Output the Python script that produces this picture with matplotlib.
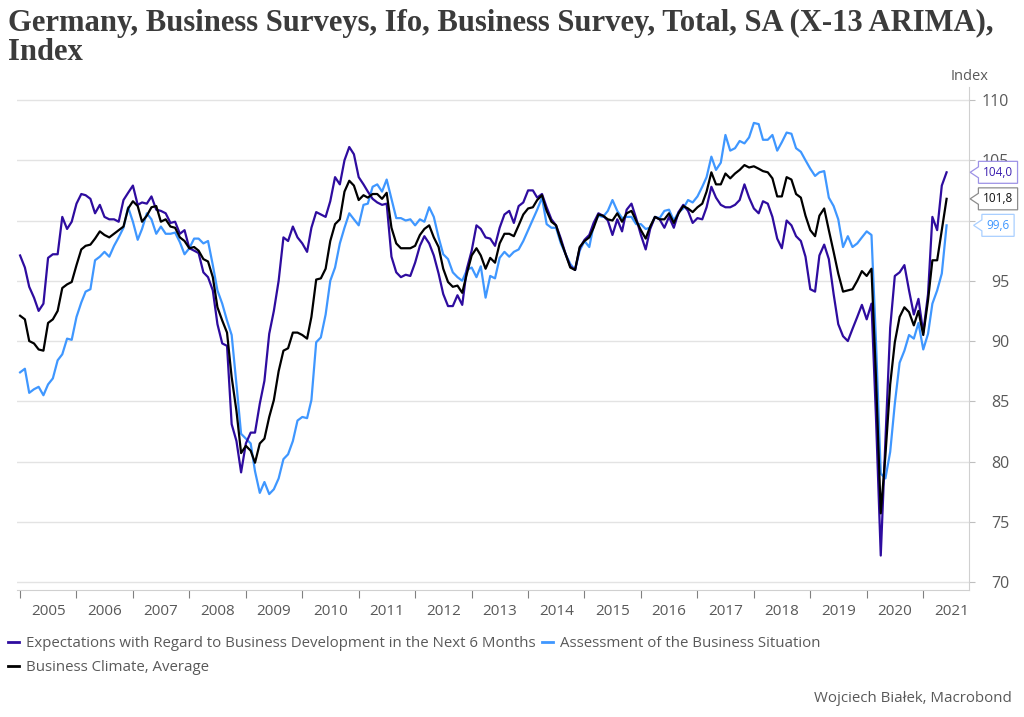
import matplotlib
matplotlib.use("Agg")
import matplotlib.pyplot as plt
import matplotlib.dates as mdates
from matplotlib.path import Path
from matplotlib.lines import Line2D
import matplotlib.transforms as mtransforms
import numpy as np
import pandas as pd

# ---------------- data (monthly, Jan 2005 - Jun 2021) ----------------
start_month = "2005-01-01"

expectations = [
    97.1, 96.1, 94.5, 93.6, 92.5, 93.1, 96.9, 97.2, 97.2, 100.3, 99.3, 99.9,      # 2005
    101.4, 102.2, 102.1, 101.8, 100.6, 101.3, 100.3, 100.1, 100.1, 99.9, 101.7, 102.3,  # 2006
    102.9, 101.3, 101.5, 101.4, 102.0, 100.9, 100.8, 100.6, 99.8, 99.9, 98.9, 99.2,   # 2007
    97.7, 97.5, 97.3, 95.7, 95.3, 94.2, 91.4, 89.8, 89.6, 83.1, 81.7, 79.1,          # 2008
    81.5, 82.4, 82.4, 84.8, 86.7, 90.6, 92.5, 95.0, 98.6, 98.3, 99.5, 98.6,          # 2009
    98.1, 97.4, 99.4, 100.7, 100.5, 100.3, 101.6, 103.6, 103.0, 105.0, 106.1, 105.5,  # 2010
    103.6, 103.0, 102.4, 101.8, 101.5, 101.3, 101.4, 97.0, 95.7, 95.3, 95.5, 95.4,   # 2011
    96.5, 97.9, 98.7, 98.1, 97.1, 95.6, 93.9, 92.9, 92.9, 93.8, 93.0, 96.0,          # 2012
    97.5, 99.6, 99.3, 98.6, 98.5, 97.9, 99.4, 100.5, 100.8, 99.8, 101.2, 101.5,      # 2013
    102.5, 102.5, 101.9, 102.2, 101.1, 100.1, 99.6, 98.5, 97.2, 96.2, 95.9, 97.7,    # 2014
    98.4, 98.8, 99.8, 100.6, 100.4, 100.0, 98.8, 100.1, 99.1, 100.9, 101.4, 100.2,   # 2015
    98.8, 97.6, 99.3, 100.3, 100.1, 99.4, 100.3, 99.4, 100.7, 101.3, 100.8, 99.8,    # 2016
    100.2, 100.1, 101.1, 102.8, 101.9, 101.3, 101.1, 101.1, 101.3, 101.7, 103.0, 101.9,  # 2017
    101.0, 100.6, 101.6, 101.4, 100.3, 98.5, 97.7, 100.0, 99.6, 98.7, 98.3, 97.0,    # 2018
    94.3, 94.1, 97.1, 98.0, 96.8, 93.9, 91.4, 90.4, 90.0, 91.0, 92.0, 93.0,          # 2019
    91.8, 93.1, 83.7, 72.2, 81.7, 91.1, 95.4, 95.7, 96.3, 94.2, 92.2, 93.5,          # 2020
    90.7, 93.9, 100.3, 99.2, 102.9, 104.0,                                            # 2021
]

assessment = [
    87.4, 87.7, 85.7, 86.0, 86.2, 85.5, 86.4, 86.9, 88.4, 88.9, 90.2, 90.1,          # 2005
    92.0, 93.2, 94.1, 94.3, 96.7, 97.0, 97.4, 97.0, 97.9, 98.6, 99.4, 101.1,         # 2006
    99.9, 98.4, 99.3, 100.6, 100.1, 98.9, 99.5, 98.9, 98.9, 99.0, 98.2, 97.2,        # 2007
    97.7, 98.5, 98.5, 98.1, 98.3, 96.3, 94.2, 93.1, 91.7, 90.5, 86.4, 82.3,          # 2008
    81.9, 81.5, 79.2, 77.4, 78.3, 77.3, 77.7, 78.6, 80.2, 80.6, 81.7, 83.4,          # 2009
    83.7, 83.6, 85.1, 89.9, 90.3, 92.2, 95.0, 96.1, 98.1, 99.4, 100.6, 100.1,        # 2010
    99.6, 101.3, 101.4, 102.8, 103.0, 102.4, 103.4, 101.8, 100.2, 100.2, 100.0, 100.1,  # 2011
    99.6, 100.1, 99.9, 101.1, 100.3, 98.6, 97.2, 96.8, 95.7, 95.3, 95.0, 95.9,       # 2012
    96.1, 95.3, 96.2, 93.6, 95.4, 95.2, 96.9, 97.4, 97.0, 97.4, 97.6, 98.3,          # 2013
    99.2, 100.1, 100.9, 101.9, 99.7, 99.4, 99.4, 98.1, 97.2, 96.4, 95.9, 97.5,       # 2014
    98.3, 97.8, 99.6, 100.4, 100.3, 100.8, 101.7, 100.8, 100.2, 100.3, 100.3, 99.7,  # 2015
    99.7, 99.3, 99.4, 100.3, 100.2, 100.8, 100.9, 100.0, 100.7, 101.0, 101.7, 101.5,  # 2016
    102.0, 102.8, 103.6, 105.3, 104.2, 104.8, 107.1, 105.8, 106.0, 106.6, 106.4, 106.9,  # 2017
    108.1, 108.0, 106.7, 106.7, 107.1, 105.8, 106.5, 107.3, 107.2, 106.0, 105.7, 105.0,  # 2018
    104.3, 103.7, 104.0, 104.1, 101.9, 101.2, 100.1, 97.8, 98.7, 97.8, 98.1, 98.6,   # 2019
    99.1, 98.8, 90.0, 79.0, 78.6, 80.8, 84.8, 88.2, 89.2, 90.5, 90.2, 91.5,          # 2020
    89.3, 90.6, 93.1, 94.2, 95.6, 99.6,                                               # 2021
]

climate = [
    92.1, 91.8, 90.0, 89.8, 89.3, 89.2, 91.5, 91.8, 92.5, 94.4, 94.7, 94.9,          # 2005
    96.3, 97.6, 97.9, 98.0, 98.5, 99.1, 98.8, 98.6, 98.9, 99.2, 99.5, 101.0,         # 2006
    101.6, 101.2, 99.9, 100.4, 101.1, 101.2, 99.9, 100.1, 99.5, 99.4, 98.6, 98.3,    # 2007
    97.7, 97.8, 97.5, 96.8, 96.6, 95.3, 92.8, 91.7, 90.7, 87.0, 84.2, 80.7,          # 2008
    81.3, 80.9, 79.9, 81.5, 81.9, 83.7, 85.1, 87.5, 89.2, 89.4, 90.7, 90.7,          # 2009
    90.5, 90.2, 92.0, 95.1, 95.2, 96.0, 98.3, 99.7, 100.1, 102.4, 103.3, 102.9,      # 2010
    101.7, 102.1, 101.9, 102.2, 102.2, 101.8, 102.3, 99.4, 98.1, 97.7, 97.7, 97.7,   # 2011
    97.9, 98.8, 99.3, 99.6, 98.6, 97.8, 96.0, 94.9, 94.5, 94.6, 94.0, 95.6,          # 2012
    97.1, 97.7, 97.1, 96.0, 96.9, 96.5, 98.1, 98.9, 98.9, 98.7, 99.6, 100.5,         # 2013
    101.0, 101.1, 101.7, 102.1, 100.8, 99.9, 99.6, 98.3, 97.2, 96.1, 95.9, 97.8,     # 2014
    98.3, 98.6, 99.4, 100.5, 100.4, 100.1, 100.0, 100.6, 99.9, 100.6, 100.8, 100.0,  # 2015
    99.2, 98.5, 99.5, 100.3, 100.1, 100.1, 100.6, 99.8, 100.6, 101.2, 101.0, 100.7,  # 2016
    101.1, 101.4, 102.4, 104.0, 103.0, 103.0, 103.9, 103.5, 103.9, 104.2, 104.6, 104.4,  # 2017
    104.5, 104.3, 104.1, 104.0, 103.5, 102.0, 102.0, 103.6, 103.4, 102.2, 101.9, 100.4,  # 2018
    99.2, 98.7, 100.4, 101.0, 99.2, 97.4, 95.6, 94.1, 94.2, 94.3, 95.0, 95.8,        # 2019
    95.4, 96.0, 87.0, 75.7, 80.5, 86.4, 89.9, 92.0, 92.8, 92.4, 91.3, 92.5,          # 2020
    90.5, 93.4, 96.7, 96.7, 99.2, 101.8,                                              # 2021
]

labels = [
    "Expectations with Regard to Business Development in the Next 6 Months",
    "Assessment of the Business Situation",
    "Business Climate, Average",
]
year_labels = [str(y) for y in range(2005, 2022)]
y_ticks = [70, 75, 80, 85, 90, 95, 100, 105, 110]

# ---------------- style ----------------
C_EXP = "#2e0c9f"
C_ASS = "#3f97ff"
C_CLI = "#000000"
GRAY_TXT = "#595959"
SANS = ["Open Sans", "DejaVu Sans"]

plt.rcParams["font.family"] = SANS

dates = pd.date_range(start_month, periods=len(climate), freq="MS")

fig = plt.figure(figsize=(10.24, 7.17), dpi=100)
W, H = 1024, 717
ax_l, ax_r, ax_b, ax_t = 17, 969, 590, 87
ax = fig.add_axes([ax_l / W, 1 - ax_b / H, (ax_r - ax_l) / W, (ax_b - ax_t) / H])

lw = 1.6
l_exp, = ax.plot(dates, expectations, color=C_EXP, lw=lw, zorder=3)
l_ass, = ax.plot(dates, assessment, color=C_ASS, lw=lw, zorder=2)
l_cli, = ax.plot(dates, climate, color=C_CLI, lw=lw, zorder=4)

# axes limits
ax.set_ylim(69.34, 111.08)
x0 = pd.Timestamp("2004-12-12")
x1 = pd.Timestamp("2021-10-24")
ax.set_xlim(x0, x1)

# y axis on right
ax.yaxis.tick_right()
ax.set_yticks(y_ticks)
ax.set_yticklabels([str(v) for v in y_ticks])
ax.tick_params(axis="y", which="major", length=4, width=0.8, color="#bfbfbf",
               labelsize=11.5, labelcolor=GRAY_TXT, pad=25)
for t in ax.get_yticklabels():
    t.set_horizontalalignment("right")
ax.grid(axis="y", color="#e3e3e3", lw=1.0)
ax.set_axisbelow(True)

# x axis: year boundary ticks, labels mid-year
ax.xaxis.set_major_locator(mdates.YearLocator())
ax.xaxis.set_major_formatter(plt.NullFormatter())
mid_years = [pd.Timestamp(f"{y}-07-02") for y in year_labels]
ax.set_xticks(mid_years, minor=True)
ax.set_xticklabels(year_labels, minor=True)
ax.tick_params(axis="x", which="major", length=6, width=0.8, color="#808080", direction="out")
ax.tick_params(axis="x", which="minor", length=0, labelsize=11, labelcolor=GRAY_TXT, pad=10)

for s in ["left", "top"]:
    ax.spines[s].set_visible(False)
ax.spines["right"].set_color("#d0d0d0")
ax.spines["bottom"].set_color("#d0d0d0")

# value tags at right
def tag_box(x0, y0, width, height, mutation_size):
    pad = 0.38 * mutation_size
    x0 -= pad
    y0 -= pad
    width += 2 * pad
    height += 2 * pad
    xa, ya = x0 + width, y0 + height
    ym = (y0 + ya) / 2
    tip = 0.7 * mutation_size
    verts = [(x0, y0), (xa, y0), (xa, ya), (x0, ya),
             (x0, ym + height * 0.25), (x0 - tip, ym), (x0, ym - height * 0.25),
             (x0, y0)]
    return Path(verts, closed=True)

trans = mtransforms.blended_transform_factory(ax.transAxes, ax.transData)
x_tag = (998 - ax_l) / (ax_r - ax_l)
for series, tcol, ecol in [(expectations, "#3a1db0", "#9d92e6"),
                           (climate, "#111111", "#8c8c8c"),
                           (assessment, "#3f97ff", "#a9cfff")]:
    v = series[-1]
    ax.annotate(f"{v:.1f}".replace(".", ","), xy=(x_tag, v), xycoords=trans,
                ha="center", va="center", fontsize=8.5, color=tcol,
                annotation_clip=False, zorder=10,
                bbox=dict(boxstyle=tag_box, fc="white", ec=ecol, lw=0.9))

# texts
fig.text(8 / W, 1 - 9 / H,
         "Germany, Business Surveys, Ifo, Business Survey, Total, SA (X-13 ARIMA),\nIndex",
         ha="left", va="top", fontsize=22.1, fontweight="bold", color="#3b3b3b",
         family=["Liberation Serif", "DejaVu Serif"], linespacing=1.0)
fig.text(970 / W, 1 - 76 / H, "Index", ha="center", va="center", fontsize=10.5, color=GRAY_TXT)
fig.text(1012 / W, 1 - 699 / H, "Wojciech Białek, Macrobond", ha="right", va="center",
         fontsize=10.8, color=GRAY_TXT)

# legend (rows: exp, ass / climate)
handles = [Line2D([], [], color=C_EXP, lw=2), Line2D([], [], color=C_CLI, lw=2),
           Line2D([], [], color=C_ASS, lw=2)]
leg = fig.legend(handles, [labels[0], labels[2], labels[1]], loc="upper left",
                 bbox_to_anchor=(8 / W, 1 - 636 / H), ncol=2, frameon=False,
                 handlelength=0.75, handletextpad=0.45, columnspacing=0.4,
                 labelspacing=0.62, fontsize=10.8, borderaxespad=0, borderpad=0)
for t in leg.get_texts():
    t.set_color(GRAY_TXT)

fig.savefig("out.png", dpi=100)
